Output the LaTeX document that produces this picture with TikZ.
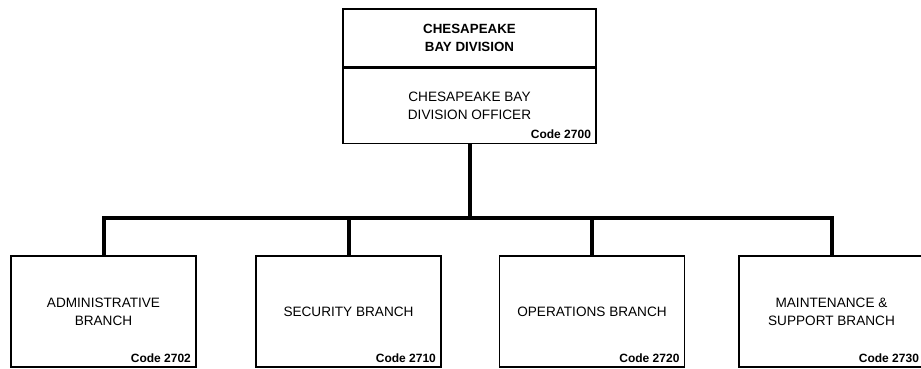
\documentclass[tikz,border=0pt]{standalone}
\usepackage{fontspec}
\setmainfont{Liberation Sans}
\usetikzlibrary{positioning}

\begin{document}
\begin{tikzpicture}[x=0.75pt,y=-0.75pt,
	unit/.style={draw, line width=.8pt, align=center, inner sep=0pt,
		font=\fontsize{10.2}{13.5}\selectfont},
	head/.style={unit, minimum width=189.75pt, minimum height=43.5pt, font=\fontsize{10}{13.5}\selectfont\bfseries},
	office/.style={unit, minimum width=189.75pt, minimum height=56.25pt},
	branch/.style={unit, minimum width=138.75pt, minimum height=83.25pt},
	code/.style={anchor=south east, inner xsep=4pt, inner ysep=3.5pt, font=\fontsize{9}{10}\selectfont\bfseries},
	conn/.style={line width=3pt}]
\useasboundingbox (0,0) rectangle (921,368);

% draw division boxes
\node[head] (head) at (469.5,38) {CHESAPEAKE\\BAY DIVISION};
\node[office, below=0pt of head] (div) {CHESAPEAKE BAY\\DIVISION OFFICER};
\node[code] (c2700) at (div.south east) {Code 2700};

% draw branch boxes
\node[branch] (adm) at (103.5,311.5) {ADMINISTRATIVE\\BRANCH};
\node[branch] (sec) at (348.5,311.5) {SECURITY BRANCH};
\node[branch] (ops) at (592,311.5) {OPERATIONS BRANCH};
\node[branch] (mnt) at (831.5,311.5) {MAINTENANCE \&\\SUPPORT BRANCH};
\node[code] (c2702) at (adm.south east) {Code 2702};
\node[code] (c2710) at (sec.south east) {Code 2710};
\node[code] (c2720) at (ops.south east) {Code 2720};
\node[code] (c2730) at (mnt.south east) {Code 2730};

% draw connectors
\coordinate (bar) at (div.south |- 0,218);
\draw[conn] (div.south) -- (bar);
\draw[conn] (adm.north) |- (mnt.north |- bar) -- (mnt.north);
\draw[conn] (sec.north) -- (sec.north |- bar);
\draw[conn] (ops.north) -- (ops.north |- bar);
\end{tikzpicture}
\end{document}
